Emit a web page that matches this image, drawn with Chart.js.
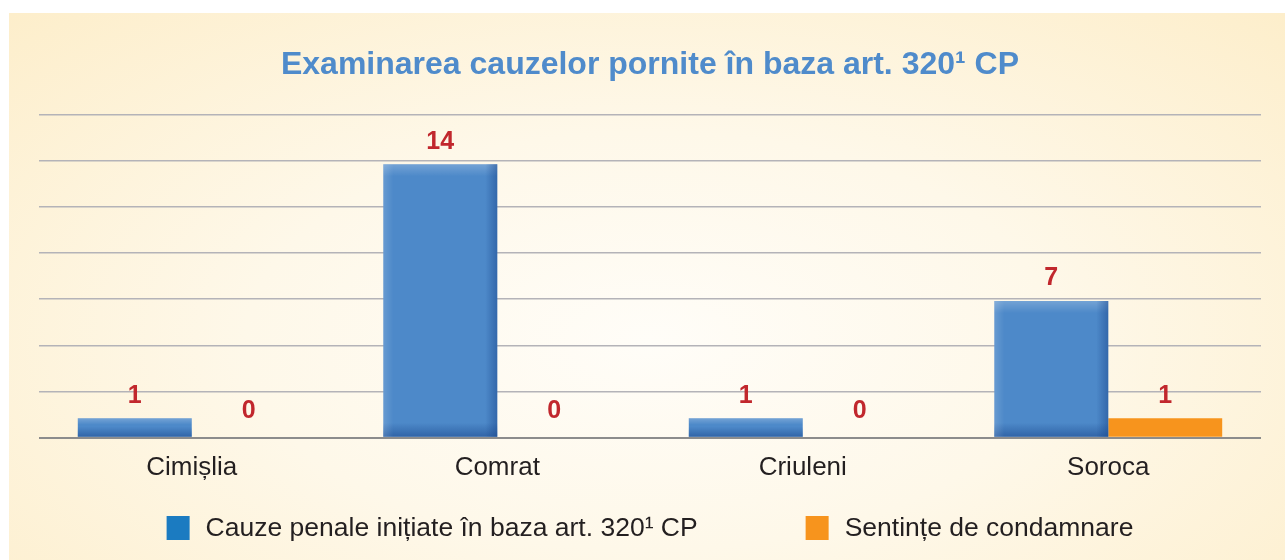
<!DOCTYPE html>
<html>
<head>
<meta charset="utf-8">
<script src="https://cdn.jsdelivr.net/npm/chart.js@4.4.0/dist/chart.umd.min.js"></script>
<style>
html, body { margin: 0; padding: 0; background: #fff; overflow: hidden; }
#wrap {
    position: absolute; left: 9px; top: 13px; width: 1282px; height: 547px;
    background: radial-gradient(ellipse 70% 85% at 50% 60%, #fffdf8 0%, #fef8e9 45%, #fdeecb 100%);
}
</style>
</head>
<body>
<div id="wrap"><canvas id="chart"></canvas></div>
<script>
// chart data
var categories = ['Cimișlia', 'Comrat', 'Criuleni', 'Soroca'];
var cauzePenale = [1, 14, 1, 7];
var sentinte = [0, 0, 0, 1];
var seriesNames = ['Cauze penale inițiate în baza art. 320¹ CP', 'Sentințe de condamnare'];
var chartTitle = 'Examinarea cauzelor pornite în baza art. 320¹ CP';

// scale setup (grid has 7 bands, no visible tick labels)
var yMax = 16.55;
var gridCount = 7;

var barColors = ['#4d89c9', '#f7941d'];
var legendColors = ['#1b7bc1', '#f7941d'];
var fontFamily = '"Liberation Sans", Arial, sans-serif';

// bevel on the blue bars + red value labels
var barExtras = {
    id: 'barExtras',
    afterDatasetsDraw: function (chart) {
        var ctx = chart.ctx;
        ctx.save();
        var blue = chart.getDatasetMeta(0);
        blue.data.forEach(function (el) {
            var p = el.getProps(['x', 'y', 'width', 'base'], true);
            var l = p.x - p.width / 2, r = p.x + p.width / 2, t = p.y, b = p.base;
            var h = b - t;
            if (h <= 0) return;
            var g;
            var th = Math.min(12, h * 0.35);
            g = ctx.createLinearGradient(0, t, 0, t + th);
            g.addColorStop(0, 'rgba(255,255,255,0.22)');
            g.addColorStop(1, 'rgba(255,255,255,0)');
            ctx.fillStyle = g;
            ctx.fillRect(l, t, p.width, th);
            var bh = Math.min(14, h * 0.55);
            g = ctx.createLinearGradient(0, b - bh, 0, b);
            g.addColorStop(0, 'rgba(25,70,140,0)');
            g.addColorStop(1, 'rgba(25,70,140,0.55)');
            ctx.fillStyle = g;
            ctx.fillRect(l, b - bh, p.width, bh);
            if (h > 30) {
                g = ctx.createLinearGradient(r - 12, 0, r, 0);
                g.addColorStop(0, 'rgba(25,70,140,0)');
                g.addColorStop(1, 'rgba(25,70,140,0.5)');
                ctx.fillStyle = g;
                ctx.fillRect(r - 12, t, 12, h);
                g = ctx.createLinearGradient(l, 0, l + 10, 0);
                g.addColorStop(0, 'rgba(255,255,255,0.15)');
                g.addColorStop(1, 'rgba(255,255,255,0)');
                ctx.fillStyle = g;
                ctx.fillRect(l, t, 10, h);
            }
        });

        ctx.font = 'bold 25px ' + fontFamily;
        ctx.fillStyle = '#c1272d';
        ctx.textAlign = 'center';
        ctx.textBaseline = 'bottom';
        chart.data.datasets.forEach(function (ds, i) {
            chart.getDatasetMeta(i).data.forEach(function (el, j) {
                var off = ds.data[j] === 0 ? 14 : 10;
                ctx.fillText(String(ds.data[j]), el.x, el.y - off);
            });
        });
        ctx.restore();
    },
    afterDraw: function (chart) {
        // legend row under the axis
        var ctx = chart.ctx;
        ctx.save();
        ctx.font = '26.5px ' + fontFamily;
        var box = 23, gapText = 16, gapItem = 108;
        var widths = seriesNames.map(function (t) { return ctx.measureText(t).width; });
        var total = gapItem * (seriesNames.length - 1);
        widths.forEach(function (w) { total += box + gapText + w; });
        var x = chart.width / 2 - total / 2;
        var y = 503;
        ctx.textBaseline = 'middle';
        ctx.textAlign = 'left';
        seriesNames.forEach(function (name, i) {
            ctx.fillStyle = legendColors[i];
            ctx.fillRect(x, y, box, 24);
            ctx.fillStyle = '#231f20';
            ctx.fillText(name, x + box + gapText, y + 13);
            x += box + gapText + widths[i] + gapItem;
        });
        ctx.restore();
    }
};

var ctx = document.getElementById('chart').getContext('2d');
var chart = new Chart(ctx, {
    type: 'bar',
    data: {
        labels: categories,
        datasets: [{
            label: seriesNames[0],
            data: cauzePenale,
            backgroundColor: barColors[0],
            borderWidth: 0
        }, {
            label: seriesNames[1],
            data: sentinte,
            backgroundColor: barColors[1],
            borderWidth: 0
        }]
    },
    options: {
        responsive: true,
        maintainAspectRatio: false,
        animation: false,
        categoryPercentage: 0.746,
        barPercentage: 1.0,
        layout: { padding: { left: 30, right: 30, top: 0, bottom: 63 } },
        plugins: {
            legend: { display: false },
            tooltip: { enabled: false },
            title: {
                display: true,
                text: chartTitle,
                color: '#4f8bcb',
                font: { family: fontFamily, size: 32, weight: 'bold' },
                padding: { top: 33, bottom: 30 }
            }
        },
        scales: {
            x: {
                grid: { display: false, drawTicks: false },
                border: { display: false },
                ticks: {
                    color: '#231f20',
                    padding: 14,
                    font: { family: fontFamily, size: 26 }
                }
            },
            y: {
                min: 0,
                max: yMax,
                afterBuildTicks: function (scale) {
                    var ticks = [];
                    for (var i = 0; i <= gridCount; i++) {
                        ticks.push({ value: yMax * i / gridCount });
                    }
                    scale.ticks = ticks;
                },
                ticks: { display: false },
                border: { display: false },
                grid: {
                    drawTicks: false,
                    lineWidth: function (c) { return c.index === 0 ? 2 : 1.5; },
                    color: function (c) { return c.index === 0 ? '#8c8c8c' : '#b4b3b8'; }
                }
            }
        }
    },
    plugins: [barExtras]
});
</script>
</body>
</html>
